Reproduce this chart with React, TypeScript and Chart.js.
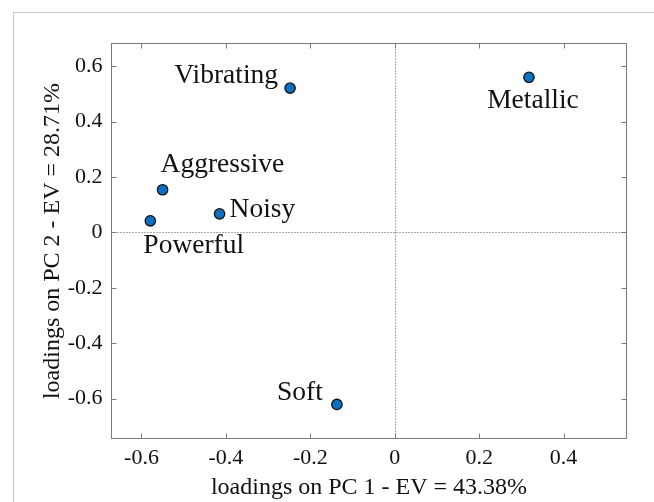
import React, { useEffect, useRef } from "react";
import { Chart, registerables } from "chart.js";

Chart.register(...registerables);

// ---- data ----
const attributes = ["Vibrating", "Metallic", "Aggressive", "Noisy", "Powerful", "Soft"];
const pc1Loadings = [-0.248, 0.318, -0.55, -0.415, -0.579, -0.137];
const pc2Loadings = [0.521, 0.56, 0.154, 0.067, 0.042, -0.621];
const xTickValues = [-0.6, -0.4, -0.2, 0, 0.2, 0.4];
const xTickLabels = ["-0.6", "-0.4", "-0.2", "0", "0.2", "0.4"];
const yTickValues = [-0.6, -0.4, -0.2, 0, 0.2, 0.4, 0.6];
const yTickLabels = ["-0.6", "-0.4", "-0.2", "0", "0.2", "0.4", "0.6"];
const xAxisTitle = "loadings on PC 1 - EV = 43.38%";
const yAxisTitle = "loadings on PC 2 - EV = 28.71%";
const xRange = [-0.671, 0.549];
const yRange = [-0.744, 0.682];

// ---- label placement (style only) ----
const labelPlacement: Record<string, { align: CanvasTextAlign; dx: number; dy: number }> = {
  Vibrating: { align: "right", dx: -12, dy: -5 },
  Metallic: { align: "center", dx: 4, dy: 31 },
  Aggressive: { align: "left", dx: -2, dy: -18 },
  Noisy: { align: "left", dx: 10, dy: 3 },
  Powerful: { align: "left", dx: -7, dy: 32 },
  Soft: { align: "right", dx: -14, dy: -4 },
};

const FONT = "'Liberation Serif', 'Times New Roman', serif";
const AXIS_COLOR = "#7a7a7a";

const frameAndRefPlugin = {
  id: "frameAndRef",
  beforeDatasetsDraw(chart: any) {
    const { ctx, chartArea, scales } = chart;
    const { left, right, top, bottom } = chartArea;
    ctx.save();
    // dotted zero lines
    ctx.strokeStyle = "#555";
    ctx.lineWidth = 1;
    ctx.setLineDash([1, 2]);
    const x0 = Math.round(scales.x.getPixelForValue(0)) + 0.5;
    const y0 = Math.round(scales.y.getPixelForValue(0)) + 0.5;
    ctx.beginPath();
    ctx.moveTo(x0, top);
    ctx.lineTo(x0, bottom);
    ctx.moveTo(left, y0);
    ctx.lineTo(right, y0);
    ctx.stroke();
    ctx.setLineDash([]);
    // box
    ctx.strokeStyle = AXIS_COLOR;
    ctx.lineWidth = 1;
    ctx.strokeRect(left, top, right - left, bottom - top);
    // inward ticks
    const tl = 5;
    ctx.beginPath();
    xTickValues.forEach((v) => {
      const px = Math.round(scales.x.getPixelForValue(v)) + 0.5;
      ctx.moveTo(px, bottom);
      ctx.lineTo(px, bottom - tl);
      ctx.moveTo(px, top);
      ctx.lineTo(px, top + tl);
    });
    yTickValues.forEach((v) => {
      const py = Math.round(scales.y.getPixelForValue(v)) + 0.5;
      ctx.moveTo(left, py);
      ctx.lineTo(left + tl, py);
      ctx.moveTo(right, py);
      ctx.lineTo(right - tl, py);
    });
    ctx.stroke();
    ctx.restore();
  },
  afterDatasetsDraw(chart: any) {
    const { ctx } = chart;
    const meta = chart.getDatasetMeta(0);
    ctx.save();
    ctx.fillStyle = "#111";
    ctx.font = `27.5px ${FONT}`;
    ctx.textBaseline = "alphabetic";
    meta.data.forEach((el: any, i: number) => {
      const name = attributes[i];
      const p = labelPlacement[name];
      ctx.textAlign = p.align;
      ctx.fillText(name, el.x + p.dx, el.y + p.dy);
    });
    ctx.restore();
  },
};

export default function App() {
  const canvasRef = useRef<HTMLCanvasElement | null>(null);

  useEffect(() => {
    if (!canvasRef.current) return;
    const chart = new Chart(canvasRef.current, {
      type: "scatter",
      data: {
        datasets: [
          {
            data: attributes.map((_, i) => ({ x: pc1Loadings[i], y: pc2Loadings[i] })),
            pointRadius: 5.2,
            pointHoverRadius: 5.2,
            pointBackgroundColor: "#0b6fc2",
            pointBorderColor: "#111",
            pointBorderWidth: 1.3,
          },
        ],
      },
      options: {
        responsive: false,
        animation: false,
        events: [],
        layout: { padding: { top: 43.5, right: 27.5, bottom: 0, left: 0 } },
        plugins: { legend: { display: false }, tooltip: { enabled: false } },
        scales: {
          x: {
            type: "linear",
            position: "bottom",
            min: xRange[0],
            max: xRange[1],
            afterBuildTicks: (s: any) => {
              s.ticks = xTickValues.map((value) => ({ value }));
            },
            afterFit: (s: any) => {
              s.height = 63.5;
            },
            grid: { display: false, drawTicks: false },
            border: { display: false },
            ticks: {
              autoSkip: false,
              maxRotation: 0,
              padding: 7,
              color: "#111",
              font: { family: FONT, size: 22 },
              callback: (_v: any, i: number) => xTickLabels[i],
            },
            title: {
              display: true,
              text: xAxisTitle,
              color: "#111",
              font: { family: FONT, size: 24 },
              padding: { top: 0, bottom: 0 },
            },
          },
          y: {
            type: "linear",
            position: "left",
            min: yRange[0],
            max: yRange[1],
            afterBuildTicks: (s: any) => {
              s.ticks = yTickValues.map((value) => ({ value }));
            },
            afterFit: (s: any) => {
              s.width = 111.5;
            },
            grid: { display: false, drawTicks: false },
            border: { display: false },
            ticks: {
              autoSkip: false,
              padding: 9,
              color: "#111",
              font: { family: FONT, size: 22 },
              callback: (_v: any, i: number) => yTickLabels[i],
            },
            title: {
              display: true,
              text: yAxisTitle,
              color: "#111",
              font: { family: FONT, size: 24 },
              padding: { top: 38, bottom: 0 },
            },
          },
        },
      },
      plugins: [frameAndRefPlugin],
    });
    return () => chart.destroy();
  }, []);

  return (
    <div style={{ position: "fixed", left: 0, top: 0, width: 654, height: 502, background: "#fff" }}>
      <div
        style={{
          position: "absolute",
          left: 13,
          top: 12,
          right: 0,
          bottom: 0,
          borderTop: "1px solid #c8c8c8",
          borderLeft: "1px solid #c8c8c8",
        }}
      />
      <canvas
        ref={canvasRef}
        width={654}
        height={502}
        style={{ position: "absolute", left: 0, top: 0, width: 654, height: 502 }}
      />
    </div>
  );
}
